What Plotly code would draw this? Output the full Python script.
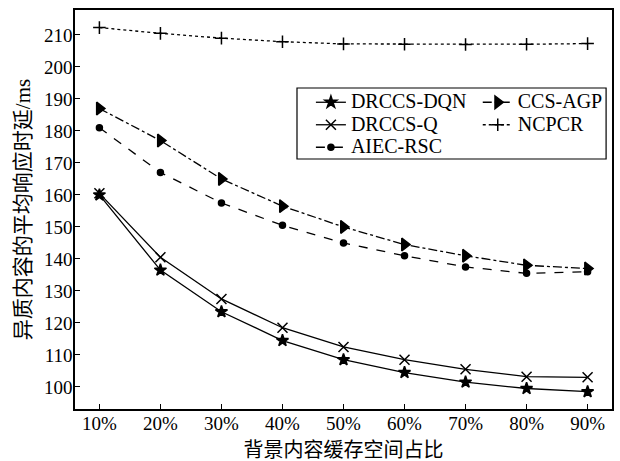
import plotly.graph_objects as go

categories = ["10%", "20%", "30%", "40%", "50%", "60%", "70%", "80%", "90%"]
drccs_dqn = [160.0, 136.5, 123.5, 114.5, 108.5, 104.5, 101.5, 99.5, 98.5]
drccs_q = [160.5, 140.5, 127.5, 118.5, 112.5, 108.5, 105.5, 103.2, 103.0]
aiec_rsc = [181.0, 167.0, 157.5, 150.5, 145.0, 141.0, 137.5, 135.5, 136.0]
ccs_agp = [187.0, 177.0, 165.0, 156.5, 150.0, 144.5, 141.0, 138.0, 137.0]
ncpcr = [212.3, 210.5, 209.0, 207.9, 207.2, 207.1, 207.0, 207.1, 207.3]
y_ticks = [100, 110, 120, 130, 140, 150, 160, 170, 180, 190, 200, 210]

FONT = "Liberation Serif, Noto Sans CJK SC, serif"
xs = list(range(len(categories)))

series = [
    ("DRCCS-DQN", drccs_dqn, "solid", "star", 9, "legend"),
    ("DRCCS-Q", drccs_q, "solid", "x-thin-open", 10, "legend"),
    ("AIEC-RSC", aiec_rsc, "dash", "circle", 6, "legend"),
    ("CCS-AGP", ccs_agp, "dashdot", "triangle-right", 11, "legend2"),
    ("NCPCR", ncpcr, "dot", "cross-thin-open", 9, "legend2"),
]

fig = go.Figure()
for name, vals, dash, sym, size, leg in series:
    fig.add_trace(go.Scatter(
        x=xs, y=vals, name='<span style="font-size:20px">%s</span>' % name,
        mode="lines+markers", legend=leg,
        line=dict(color="black", width=1.3, dash=dash),
        marker=dict(symbol=sym, size=size, color="black",
                    line=dict(color="black", width=1.5)),
    ))

leg_common = dict(
    yanchor="top", xanchor="left", orientation="v",
    bgcolor="rgba(0,0,0,0)", borderwidth=0,
    font=dict(family=FONT, size=15, color="black"),
    tracegroupgap=0, itemsizing="trace",
)

fig.update_layout(
    width=620, height=461,
    margin=dict(l=75, r=8, t=10, b=52),
    paper_bgcolor="white", plot_bgcolor="white",
    font=dict(family=FONT, size=19, color="black"),
    showlegend=True,
    legend=dict(x=0.4393, y=0.8095, **leg_common),
    legend2=dict(x=0.750, y=0.8095, **leg_common),
    shapes=[dict(type="rect", xref="paper", yref="paper",
                 x0=0.4134, x1=0.989, y0=0.6266, y1=0.8045,
                 line=dict(color="black", width=1.2),
                 fillcolor="white", layer="below")],
)
fig.update_xaxes(
    range=[-0.4, 8.4], tickvals=xs, ticktext=categories,
    showgrid=False, zeroline=False, automargin=False,
    showline=True, linecolor="black", linewidth=1.5, mirror=True,
    ticks="inside", ticklen=5, tickcolor="black", ticklabelstandoff=-4,
    title=dict(text="背景内容缓存空间占比", font=dict(family=FONT, size=20), standoff=12),
)
fig.update_yaxes(
    range=[93.1, 217.8], tickvals=y_ticks,
    showgrid=False, zeroline=False, automargin=False,
    showline=True, linecolor="black", linewidth=1.5, mirror=True,
    ticks="inside", ticklen=5, tickcolor="black", ticklabelstandoff=-3,
    title=dict(text="异质内容的平均响应时延/ms", font=dict(family=FONT, size=21), standoff=8),
)

fig.write_html("out.html", config={"displayModeBar": False},
               post_script="document.body.style.margin='0';")
